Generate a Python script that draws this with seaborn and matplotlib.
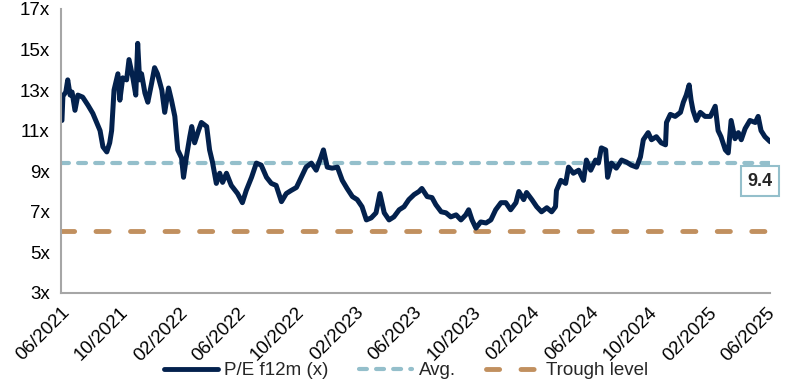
import seaborn as sns
import matplotlib.pyplot as plt
import matplotlib.ticker as mticker
from matplotlib.lines import Line2D
import pandas as pd

# P/E f12m (x)
datas = [
    '2021-06-03', '2021-06-05', '2021-06-11', '2021-06-15', '2021-06-20', '2021-06-24', '2021-06-30',
    '2021-07-06', '2021-07-16', '2021-07-27', '2021-08-06', '2021-08-14', '2021-08-21', '2021-08-27',
    '2021-09-04', '2021-09-10', '2021-09-14', '2021-09-19', '2021-09-27', '2021-10-01', '2021-10-07',
    '2021-10-15', '2021-10-20', '2021-10-28', '2021-11-03', '2021-11-07', '2021-11-11', '2021-11-15',
    '2021-11-22', '2021-11-28', '2021-12-06', '2021-12-12', '2021-12-18', '2021-12-27', '2022-01-02',
    '2022-01-10', '2022-01-16', '2022-01-23', '2022-01-29', '2022-02-06', '2022-02-10', '2022-02-16',
    '2022-02-23', '2022-02-27', '2022-03-05', '2022-03-13', '2022-03-19', '2022-03-30', '2022-04-05',
    '2022-04-11', '2022-04-19', '2022-04-26', '2022-05-02', '2022-05-10', '2022-05-20', '2022-06-02',
    '2022-06-12', '2022-06-20', '2022-07-01', '2022-07-11', '2022-07-21', '2022-08-01', '2022-08-11',
    '2022-08-21', '2022-09-01', '2022-09-11', '2022-09-21', '2022-10-02', '2022-10-12', '2022-10-22',
    '2022-11-02', '2022-11-12', '2022-11-22', '2022-11-27', '2022-12-05', '2022-12-15', '2022-12-26',
    '2023-01-05', '2023-01-15', '2023-01-26', '2023-02-05', '2023-02-15', '2023-02-24', '2023-03-06',
    '2023-03-16', '2023-03-24', '2023-04-02', '2023-04-12', '2023-04-22', '2023-05-03', '2023-05-13',
    '2023-05-23', '2023-06-03', '2023-06-13', '2023-06-19', '2023-06-30', '2023-07-10', '2023-07-18',
    '2023-07-29', '2023-08-08', '2023-08-18', '2023-08-29', '2023-09-08', '2023-09-18', '2023-09-24',
    '2023-10-01', '2023-10-09', '2023-10-19', '2023-10-30', '2023-11-09', '2023-11-19', '2023-11-30',
    '2023-12-10', '2023-12-20', '2023-12-31', '2024-01-06', '2024-01-16', '2024-01-22', '2024-02-02',
    '2024-02-12', '2024-02-22', '2024-03-04', '2024-03-14', '2024-03-22', '2024-03-24', '2024-04-02',
    '2024-04-12', '2024-04-18', '2024-04-28', '2024-05-09', '2024-05-19', '2024-05-25', '2024-06-03',
    '2024-06-13', '2024-06-19', '2024-06-25', '2024-07-04', '2024-07-08', '2024-07-16', '2024-07-26',
    '2024-08-06', '2024-08-16', '2024-08-26', '2024-09-06', '2024-09-14', '2024-09-20', '2024-09-30',
    '2024-10-07', '2024-10-17', '2024-10-27', '2024-11-05', '2024-11-07', '2024-11-15', '2024-11-25',
    '2024-12-06', '2024-12-12', '2024-12-18', '2024-12-24', '2024-12-28', '2025-01-01', '2025-01-08',
    '2025-01-16', '2025-01-26', '2025-02-06', '2025-02-16', '2025-02-22', '2025-02-28', '2025-03-09',
    '2025-03-15', '2025-03-21', '2025-03-29', '2025-04-05', '2025-04-11', '2025-04-19', '2025-04-29',
    '2025-05-10', '2025-05-16', '2025-05-22', '2025-05-30', '2025-06-10',
]
pe = [
    11.5, 12.7, 12.9, 13.5, 12.75, 12.9, 12.0,
    12.75, 12.65, 12.25, 11.85, 11.4, 11.0, 10.2,
    9.95, 10.4, 11.0, 13.0, 13.8, 12.5, 13.6,
    13.5, 14.5, 13.6, 12.75, 15.3, 13.5, 13.8,
    12.85, 12.4, 13.35, 14.1, 13.8, 13.0, 11.9,
    13.1, 12.5, 11.7, 10.05, 9.65, 8.7, 9.7,
    10.7, 11.2, 10.4, 11.0, 11.4, 11.2, 10.05,
    9.45, 8.4, 8.9, 8.45, 8.9, 8.3, 7.9,
    7.45, 8.05, 8.7, 9.4, 9.3, 8.7, 8.4,
    8.3, 7.5, 7.9, 8.05, 8.2, 8.7, 9.2,
    9.4, 9.05, 9.7, 10.05, 9.2, 9.15, 9.2,
    8.55, 8.15, 7.75, 7.6, 7.25, 6.6, 6.7,
    6.95, 7.9, 6.95, 6.6, 6.75, 7.1, 7.25,
    7.6, 7.85, 8.0, 8.15, 7.75, 7.7, 7.35,
    7.0, 6.95, 6.75, 6.85, 6.6, 6.85, 7.1,
    6.6, 6.2, 6.5, 6.45, 6.6, 7.1, 7.45,
    7.45, 7.1, 7.45, 8.0, 7.6, 7.95, 7.6,
    7.25, 7.0, 7.2, 7.0, 7.25, 8.05, 8.55,
    8.4, 9.2, 8.9, 9.05, 8.55, 9.55, 9.05,
    9.55, 9.4, 10.15, 10.05, 8.7, 9.4, 9.15,
    9.55, 9.45, 9.3, 9.2, 9.7, 10.55, 10.9,
    10.55, 10.7, 10.4, 10.3, 11.4, 11.8, 11.7,
    11.9, 12.4, 12.75, 13.25, 12.5, 12.0, 11.5,
    11.9, 11.7, 11.7, 12.2, 11.0, 10.7, 10.05,
    9.9, 11.5, 10.6, 10.9, 10.55, 11.1, 11.5,
    11.4, 11.7, 11.0, 10.7, 10.45,
]
media = 9.4
vale = 6.05
ticks_y = [3, 5, 7, 9, 11, 13, 15, 17]
rotulos_x = ['06/2021', '10/2021', '02/2022', '06/2022', '10/2022', '02/2023', '06/2023',
             '10/2023', '02/2024', '06/2024', '10/2024', '02/2025', '06/2025']

cor_pe = '#03214D'
cor_media = '#94BFCB'
cor_vale = '#C1905F'
cinza = '#A6A6A6'

df = pd.DataFrame({'Data': pd.to_datetime(datas), 'PE': pe})

sns.set_style('white')
plt.rcParams['font.family'] = ['Liberation Sans', 'DejaVu Sans']

fig = plt.figure(figsize=(7.96, 3.84), dpi=100)
ax = fig.add_axes([0.0766, 0.237, 0.891, 0.74])

sns.lineplot(data=df, x='Data', y='PE', color=cor_pe, linewidth=3.6, ax=ax,
             solid_joinstyle='round', solid_capstyle='round')
ax.axhline(media, color=cor_media, linewidth=3, dashes=(1.9, 2.2), dash_capstyle='round', zorder=1)
ax.axhline(vale, color=cor_vale, linewidth=3.5, dashes=(2.7, 4.4), dash_capstyle='round', zorder=1)

ax.set_ylim(3, 17)
ax.set_yticks(ticks_y)
ax.yaxis.set_major_formatter(mticker.FuncFormatter(lambda v, p: f'{v:.0f}x'))

ax.set_xlim(pd.Timestamp('2021-06-01'), pd.Timestamp('2025-06-10'))
ticks = pd.to_datetime(['01/' + r for r in rotulos_x], format='%d/%m/%Y')
ax.set_xticks(ticks)
ax.set_xticklabels(rotulos_x, rotation=45, ha='right', rotation_mode='anchor')

ax.set_xlabel('')
ax.set_ylabel('')
for s in ['top', 'right']:
    ax.spines[s].set_visible(False)
for s in ['left', 'bottom']:
    ax.spines[s].set_color(cinza)
    ax.spines[s].set_linewidth(1.5)
ax.tick_params(axis='both', colors=cinza, length=5, width=1.5, labelsize=13.5, labelcolor='black')
ax.tick_params(axis='x', pad=3)
ax.tick_params(axis='y', pad=3)

# caixa com o valor da média
ax.annotate(f'{media:.1f}', xy=(1.0, media), xycoords=ax.get_yaxis_transform(),
            xytext=(-10, -18), textcoords='offset pixels',
            ha='center', va='center', fontsize=13, fontweight='bold',
            bbox=dict(boxstyle='square,pad=0.35', fc='white', ec=cor_media, lw=1.5))

handles = [
    Line2D([], [], color=cor_pe, linewidth=3.5),
    Line2D([], [], color=cor_media, linewidth=3, dashes=(1.9, 2.2), dash_capstyle='round'),
    Line2D([], [], color=cor_vale, linewidth=3.5, dashes=(2.7, 4.4), dash_capstyle='round'),
]
fig.legend(handles, ['P/E f12m (x)', 'Avg.', 'Trough level'], loc='center',
           bbox_to_anchor=(0.51, 0.035), ncol=3, frameon=False, fontsize=13.5,
           handlelength=2.85, handletextpad=0.35, columnspacing=1.6)

plt.savefig('out.png', dpi=100)
